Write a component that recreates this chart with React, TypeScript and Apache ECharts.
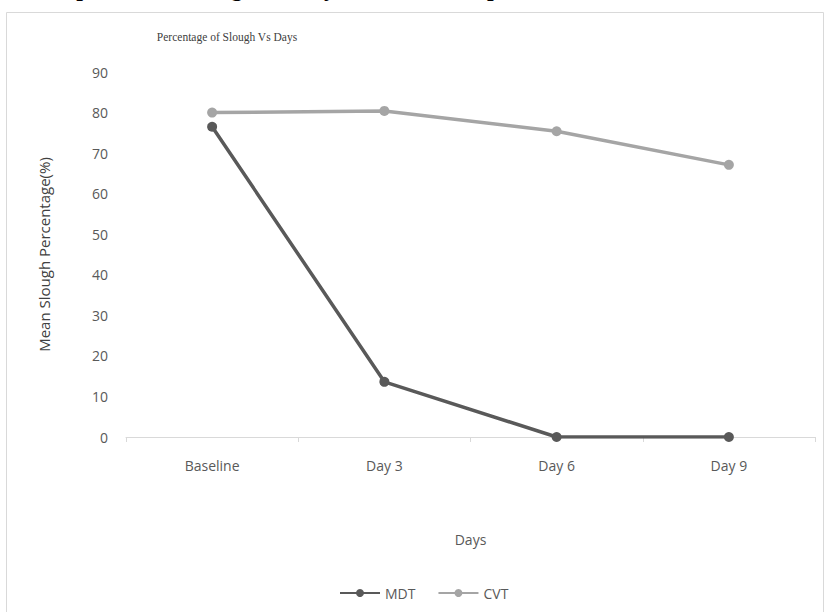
import React, { useEffect, useRef } from "react";
import * as echarts from "echarts";

const categories = ["Baseline", "Day 3", "Day 6", "Day 9"];
const mdtValues = [76.5, 13.6, 0, 0];
const cvtValues = [80, 80.4, 75.4, 67.1];
const seriesNames = ["MDT", "CVT"];
const chartTitle = "Percentage of Slough Vs Days";
const headingText = "Comparison of Slough Vs Days in Both Groups";
const yName = "Mean Slough Percentage(%)";
const xName = "Days";

export default function App() {
  const ref = useRef<HTMLDivElement>(null);
  useEffect(() => {
    if (!ref.current) return;
    const chart = echarts.init(ref.current, null, { renderer: "svg" });
    const labelFont = '"Open Sans", "Liberation Sans", sans-serif';
    chart.setOption({
      animation: false,
      backgroundColor: "#ffffff",
      title: {
        text: chartTitle,
        left: 222,
        top: 26,
        textAlign: "center",
        textStyle: {
          fontFamily: '"Liberation Serif", "DejaVu Serif", serif',
          fontSize: 11.5,
          fontWeight: "normal",
          color: "#404040",
        },
      },
      graphic: [
        {
          type: "rect",
          shape: { x: 6.5, y: 12.5, width: 817, height: 640 },
          style: { fill: "none", stroke: "#d9d9d9", lineWidth: 1 },
          silent: true,
        },
        {
          type: "text",
          x: 27,
          y: 0,
          style: {
            text: headingText,
            font: 'bold 24px "Liberation Serif", serif',
            fill: "#000000",
            verticalAlign: "bottom",
          },
          silent: true,
        },
      ],
      legend: {
        data: seriesNames,
        left: 334,
        top: 581,
        itemWidth: 40,
        itemHeight: 10,
        itemGap: 22,
        textStyle: { fontFamily: labelFont, fontSize: 14, color: "#595959" },
      },
      grid: {
        left: 126,
        right: 10,
        top: 72,
        bottom: 175,
        containLabel: false,
        outerBoundsMode: "none",
      },
      xAxis: {
        type: "category",
        data: categories,
        boundaryGap: true,
        name: xName,
        nameLocation: "middle",
        nameGap: 95,
        nameTextStyle: { fontFamily: labelFont, fontSize: 14, color: "#595959" },
        axisLine: { show: true, lineStyle: { color: "#d9d9d9", width: 1 } },
        axisTick: { show: true, length: 5, lineStyle: { color: "#d9d9d9" } },
        axisLabel: {
          fontFamily: labelFont,
          fontSize: 14,
          color: "#595959",
          margin: 21,
        },
        splitLine: { show: false },
      },
      yAxis: {
        type: "value",
        min: 0,
        max: 90,
        interval: 10,
        name: yName,
        nameLocation: "middle",
        nameRotate: 90,
        nameGap: 75,
        nameTextStyle: { fontFamily: labelFont, fontSize: 15, color: "#404040" },
        axisLine: { show: false },
        axisTick: { show: false },
        splitLine: { show: false },
        axisLabel: {
          fontFamily: labelFont,
          fontSize: 14,
          color: "#595959",
          margin: 18,
        },
      },
      series: [
        {
          name: seriesNames[0],
          type: "line",
          data: mdtValues,
          symbol: "circle",
          symbolSize: 10,
          lineStyle: { color: "#595959", width: 3.5 },
          itemStyle: { color: "#595959" },
        },
        {
          name: seriesNames[1],
          type: "line",
          data: cvtValues,
          symbol: "circle",
          symbolSize: 10,
          lineStyle: { color: "#a5a5a5", width: 3.5 },
          itemStyle: { color: "#a5a5a5" },
        },
      ],
    });
    return () => chart.dispose();
  }, []);
  return (
    <div
      ref={ref}
      style={{
        position: "fixed",
        left: 0,
        top: 0,
        width: 825,
        height: 612,
        background: "#ffffff",
      }}
    />
  );
}
